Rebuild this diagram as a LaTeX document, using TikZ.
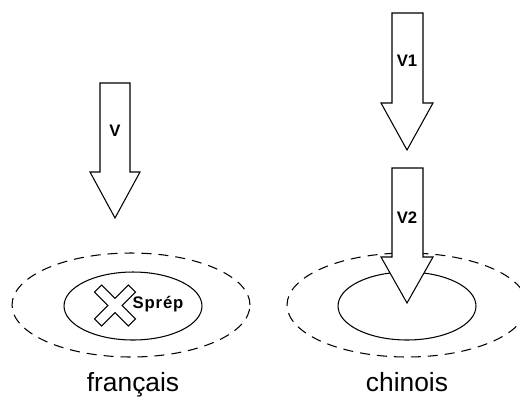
\documentclass[tikz,border=0pt]{standalone}
\usepackage{fontspec}
\setmainfont{Liberation Sans}
\usetikzlibrary{shapes.geometric, positioning}

\begin{document}
\begin{tikzpicture}[
    x=0.02cm, y=-0.02cm,
    zone/.style     = {ellipse, draw, dash pattern=on 0.2cm off 0.14cm, line width=0.6pt, inner sep=0pt},
    core/.style     = {ellipse, draw, line width=0.6pt, inner sep=0pt, minimum width=2.76cm, minimum height=1.36cm},
    blockarrow/.style = {draw, fill=white, line width=0.6pt, line join=miter},
    tag/.style      = {font=\fontsize{9.5}{11}\selectfont\bfseries},
    langue/.style   = {font=\fontsize{15}{18}\selectfont, anchor=base}
]
\useasboundingbox (0,0) rectangle (520,403);

% --- zones ---
\node[zone, minimum width=4.76cm, minimum height=2.08cm] (frzone) at (131,305) {};
\node[core] (frcore) at (133,306) {};
\node[zone, minimum width=4.8cm, minimum height=2.08cm] (chzone) at (407,305) {};
\node[core] (chcore) at (407,306) {};

% --- croix barree ---
\begin{scope}[shift={(115,305.5)}, rotate=45]
\draw[blockarrow] (24,5) -- (5,5) -- (5,24) -- (-5,24) -- (-5,5) -- (-24,5)
    -- (-24,-5) -- (-5,-5) -- (-5,-24) -- (5,-24) -- (5,-5) -- (24,-5) -- cycle;
\end{scope}
\node[tag] (prep) at (158,304) {S\kern0.5pt p\kern0.5pt r\kern0.5pt é\kern0.5pt p};

% --- fleches ---
\draw[blockarrow] (100,83) -- (130,83) -- (130,172) -- (140,172) -- (115,218) -- (90,172) -- (100,172) -- cycle;
\node[tag] (v) at (115,131) {V};

\draw[blockarrow] (392,13) -- (423,13) -- (423,103) -- (433,103) -- (407,150) -- (381,103) -- (392,103) -- cycle;
\node[tag] (v1) at (407,61) {V1};

\draw[blockarrow] (392,168) -- (423,168) -- (423,257) -- (433,257) -- (407,303) -- (381,257) -- (392,257) -- cycle;
\node[tag] (v2) at (407,218) {V2};

% --- langues ---
\node[langue] (fr) at (133,391) {français};
\node[langue] (ch) at (407,391) {chinois};

\end{tikzpicture}
\end{document}
